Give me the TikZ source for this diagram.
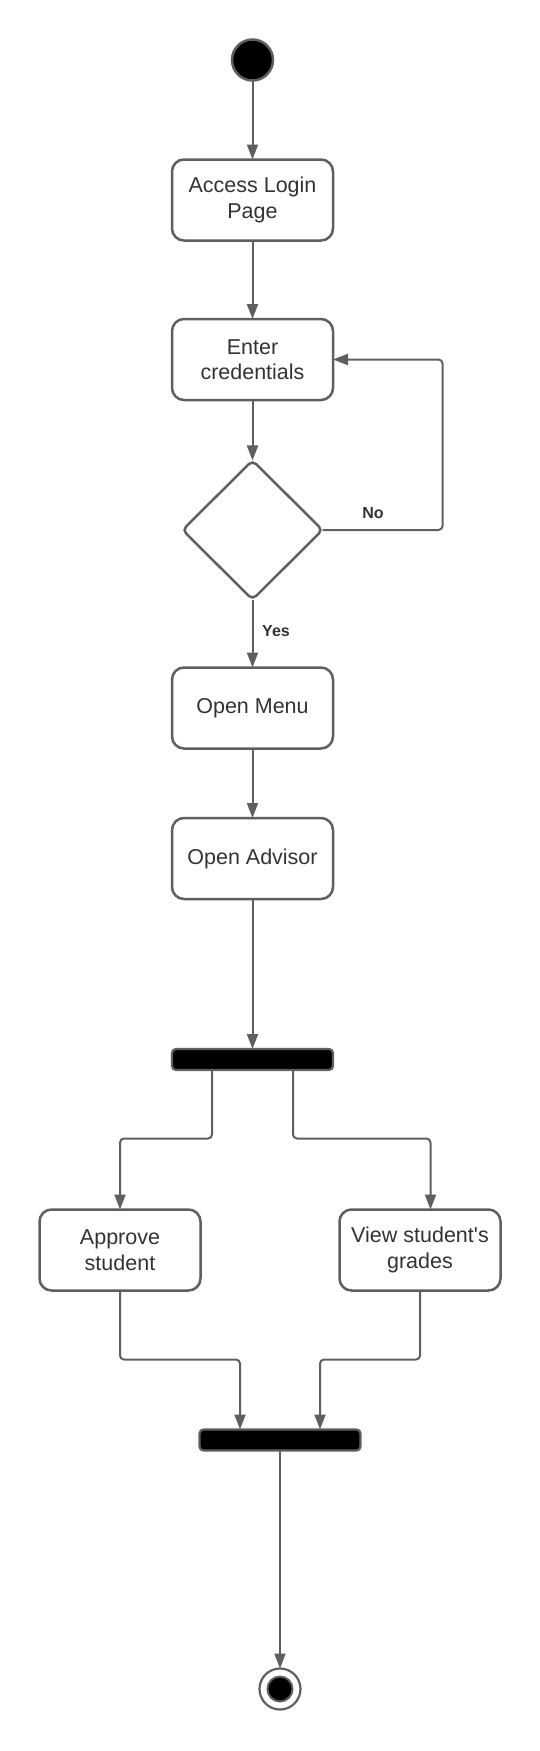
\documentclass[tikz,border=0pt]{standalone}
\usepackage{fontspec}
\setmainfont{Liberation Sans}
\usetikzlibrary{shapes.geometric, arrows.meta}
\definecolor{linegray}{HTML}{5F5F5F}
\definecolor{textgray}{HTML}{333333}
\tikzset{
  activity/.style = {shape=rectangle, rounded corners=12pt,
                     draw=linegray, line width=2.5pt, align=center,
                     fill=white, text=textgray,
                     minimum width=161pt, minimum height=81pt,
                     font=\fontsize{21.5}{25.5}\selectfont},
  decision/.style = {shape=diamond, rounded corners=5pt,
                     draw=linegray, line width=2.5pt,
                     minimum width=140pt, minimum height=139pt},
  syncbar/.style  = {shape=rectangle, rounded corners=4pt,
                     draw=linegray, line width=2.2pt, fill=black,
                     minimum width=161pt, minimum height=21pt},
  initial/.style  = {shape=circle, draw=linegray, line width=2.5pt,
                     fill=black, minimum size=41pt},
  final/.style    = {shape=circle, draw=linegray, line width=2.2pt,
                     fill=white, minimum size=41pt},
  finaldot/.style = {shape=circle, draw=linegray, line width=2pt,
                     fill=black, minimum size=25pt},
  guard/.style    = {text=textgray, font=\bfseries\fontsize{16}{19}\selectfont},
  flow/.style     = {draw=linegray, line width=2pt, rounded corners=4pt,
                     -{Triangle[length=15pt, width=11pt]}}
}
\begin{document}
\begin{tikzpicture}[x=1pt, y=-1pt, inner sep=0pt, outer sep=0pt]
  \useasboundingbox (0,0) rectangle (540,1751);

  % main column
  \node[initial]  (start)   at (252.5,60)   {};
  \node[activity] (login)   at (252.5,200)  {Access Login\\Page};
  \node[activity] (enter)   at (252.5,359.5) {Enter\\credentials};
  \node[decision] (check)   at (252.5,530)  {};
  \node[activity] (menu)    at (252.5,708)  {Open Menu};
  \node[activity] (advisor) at (252.5,858.5) {Open Advisor};
  \node[syncbar]  (fork)    at (252.5,1059.5) {};

  % parallel branch
  \node[activity] (approve) at (120,1250)   {Approve\\student};
  \node[activity] (grades)  at (420,1250)   {View student\textquotesingle s\\grades};
  \node[syncbar]  (join)    at (280,1440)   {};
  \node[final]    (finish)  at (280,1689)   {};
  \node[finaldot] (finishdot) at (finish) {};

  \draw[flow] (start) -- (login);
  \draw[flow] (login) -- (enter);
  \draw[flow] (enter) -- (check);
  \draw[flow] (check.east) -- (442.5,530) -- (442.5,359.5) -- (enter.east);
  \node[guard] (nolabel) at (373,513) {No};
  \draw[flow] (check) -- (menu);
  \node[guard] (yeslabel) at (276,631) {Yes};
  \draw[flow] (menu) -- (advisor);
  \draw[flow] (advisor) -- (fork);

  \draw[flow] ([xshift=-40.5pt]fork.south) -- ++(0,68.5) -| (approve.north);
  \draw[flow] ([xshift=40.5pt]fork.south) -- ++(0,68.5) -| ([xshift=10.5pt]grades.north);

  \draw[flow] (approve.south) -- ++(0,69) -| ([xshift=-40pt]join.north);
  \draw[flow] (grades.south) -- ++(0,69) -| ([xshift=40pt]join.north);
  \draw[flow] (join) -- (finish);
\end{tikzpicture}
\end{document}
